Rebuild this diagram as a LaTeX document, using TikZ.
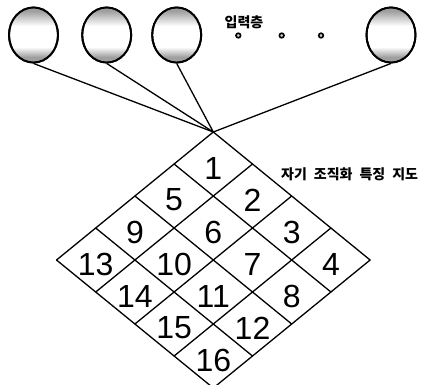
\documentclass[tikz,border=0pt]{standalone}
\usepackage{fontspec}
\usetikzlibrary{shapes.geometric}
\newfontfamily\kr{Noto Sans CJK KR}
\newfontfamily\digitfont{Liberation Sans}
\tikzset{
  ball/.style={ellipse, draw=black, line width=1.9pt, fill=white, minimum width=49pt, minimum height=55pt, inner sep=0pt},
  link/.style={line width=1.3pt},
  gridline/.style={line width=1.3pt, line cap=round},
  num/.style={font=\digitfont\fontsize{32}{32}\selectfont, inner sep=0pt},
  krlabel/.style={font=\kr\bfseries\fontsize{14}{14}\selectfont, inner sep=0pt},
  smalldot/.style={circle, draw=black, line width=1.6pt, fill=gray!40, minimum size=4.6pt, inner sep=0pt}
}
\begin{document}
\begin{tikzpicture}[x=1pt,y=-1pt]
\useasboundingbox (0,0) rectangle (435,384);
\fill[white] (0,0) rectangle (435,384);
% input layer
\foreach \nm/\cx in {c1/33.5, c2/106.7, c3/176.7, c4/391} {
  \node[ball] (\nm) at (\cx,35) {};
  \begin{scope}
    \clip (\cx,35) ellipse [x radius=23.8, y radius=26.8];
    \fill[gray!75] (\cx-26,6) rectangle (\cx+26,11);
    \shade[top color=gray!75, bottom color=white] (\cx-26,11) rectangle (\cx+26,26);
    \shade[top color=white, bottom color=gray!75] (\cx-26,47) rectangle (\cx+26,57);
    \fill[gray!75] (\cx-26,57) rectangle (\cx+26,64);
  \end{scope}
  \draw[line width=1.9pt] (\cx,35) ellipse [x radius=24.5, y radius=27.5];
}
\node[krlabel] (inlabel) at (244,22) {입력층};
\node[smalldot] (d1) at (238.3,35.5) {};
\node[smalldot] (d2) at (281.7,35.5) {};
\node[smalldot] (d3) at (321,35.5) {};
% map apex
\coordinate (T) at (213.3,132);
\foreach \c in {c1,c2,c3,c4} \draw[link] (\c.south) -- (T);
% grid
\foreach \k in {0,...,4} {
  \draw[gridline] ({213.3-\k*39.2},{132+\k*32}) -- ++(156.8,128);
  \draw[gridline] ({213.3+\k*39.2},{132+\k*32}) -- ++(-156.8,128);
}
% numbers
\foreach \i in {0,...,3} {
  \foreach \j in {0,...,3} {
    \pgfmathtruncatemacro\n{4*\i+\j+1}
    \node[num] (n\n) at ({213.3+(\j-\i)*39.2},{132+(\i+\j+1)*32+4}) {\n};
  }
}
\node[krlabel, anchor=west] (maplabel) at (281,174) {자기\hspace{7pt}조직화\hspace{7pt}특징\hspace{7pt}지도};
\end{tikzpicture}
\end{document}
